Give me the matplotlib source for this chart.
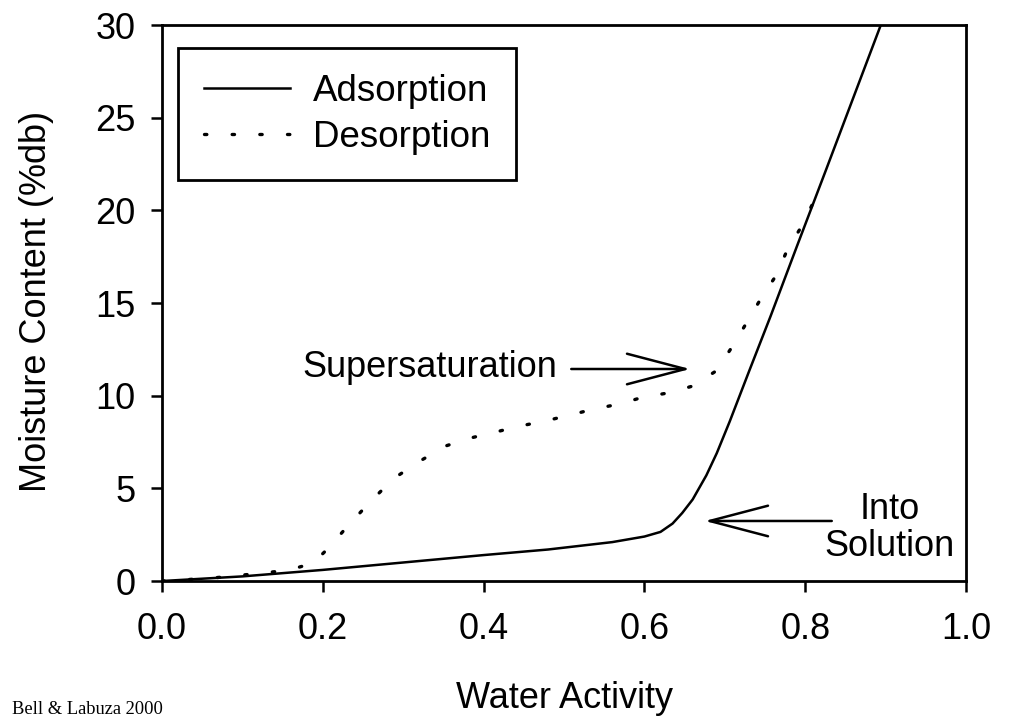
import numpy as np
import matplotlib.pyplot as plt

plt.rcParams['font.family'] = ['Liberation Sans', 'DejaVu Sans']

# adsorption isotherm (solid)
ads_aw = [0, 0.1, 0.2, 0.3, 0.4, 0.48, 0.56, 0.6, 0.62, 0.635, 0.647, 0.66,
          0.677, 0.69, 0.706, 0.73, 0.757, 0.79, 0.826, 0.86, 0.894]
ads_mc = [0, 0.25, 0.6, 1.0, 1.4, 1.7, 2.1, 2.4, 2.65, 3.1, 3.67, 4.4,
          5.7, 6.9, 8.6, 11.3, 14.3, 18.1, 22.2, 26.1, 30.0]

# desorption isotherm (dotted)
des_aw = [0, 0.06, 0.125, 0.158, 0.188, 0.207, 0.232, 0.261, 0.289, 0.323,
          0.353, 0.384, 0.415, 0.445, 0.476, 0.508, 0.537, 0.569, 0.599,
          0.63, 0.66, 0.689, 0.709, 0.728, 0.745, 0.764, 0.778, 0.795, 0.812]
des_mc = [0, 0.15, 0.43, 0.59, 0.97, 1.78, 3.02, 4.37, 5.56, 6.53,
          7.29, 7.72, 8.04, 8.36, 8.63, 8.96, 9.28, 9.55, 9.93,
          10.15, 10.52, 11.33, 12.63, 14.0, 15.25, 16.5, 17.9, 19.1, 20.6]

fig = plt.figure(figsize=(10.09, 7.19), dpi=100)
ax = fig.add_axes([0.1606, 0.1919, 0.7968, 0.7733])

ax.plot(ads_aw, ads_mc, color='black', lw=1.8, label='Adsorption')
ax.plot(des_aw, des_mc, color='black', lw=2.4, linestyle=(0, (0.7, 7.6)),
        dash_capstyle='round', label='Desorption')

ax.set_xlim(0, 1.0)
ax.set_ylim(0, 30)
ax.set_xticks(np.arange(0, 1.01, 0.2))
ax.set_xticklabels(['0.0', '0.2', '0.4', '0.6', '0.8', '1.0'])
ax.set_yticks(range(0, 31, 5))
ax.tick_params(direction='out', length=8, width=1.8, labelsize=26)
ax.tick_params(axis='x', pad=14)
ax.tick_params(axis='y', pad=11)
for s in ax.spines.values():
    s.set_linewidth(2)

ax.set_xlabel('Water Activity', fontsize=26)
ax.set_ylabel('Moisture Content (%db)', fontsize=26)
ax.xaxis.set_label_coords(0.501, -0.18)
ax.yaxis.set_label_coords(-0.1343, 0.503)

leg = ax.legend(loc='upper left', fontsize=26.5, frameon=True, fancybox=False,
                handlelength=2.35, handletextpad=0.62, borderpad=0.7,
                labelspacing=0.3, bbox_to_anchor=(0.02, 0.959),
                borderaxespad=0)
leg.get_frame().set_edgecolor('black')
leg.get_frame().set_linewidth(2)
leg.get_frame().set_alpha(1)

arrow = dict(arrowstyle='->,head_length=2.1,head_width=0.55',
             color='black', lw=1.8, shrinkA=0, shrinkB=0, mutation_scale=20)

ax.text(0.491, 11.5, 'Supersaturation', fontsize=26, ha='right', va='center')
ax.annotate('', xy=(0.657, 11.44), xytext=(0.509, 11.44), arrowprops=arrow)

ax.text(0.905, 2.86, 'Into\nSolution', fontsize=26, ha='center', va='center',
        linespacing=1.05, multialignment='center')
ax.annotate('', xy=(0.675, 3.24), xytext=(0.833, 3.24), arrowprops=arrow)

fig.text(0.012, 0.007, 'Bell & Labuza 2000', fontsize=13.3, va='baseline',
         family=['Liberation Serif', 'DejaVu Serif'])

fig.savefig('out.png', dpi=100)
